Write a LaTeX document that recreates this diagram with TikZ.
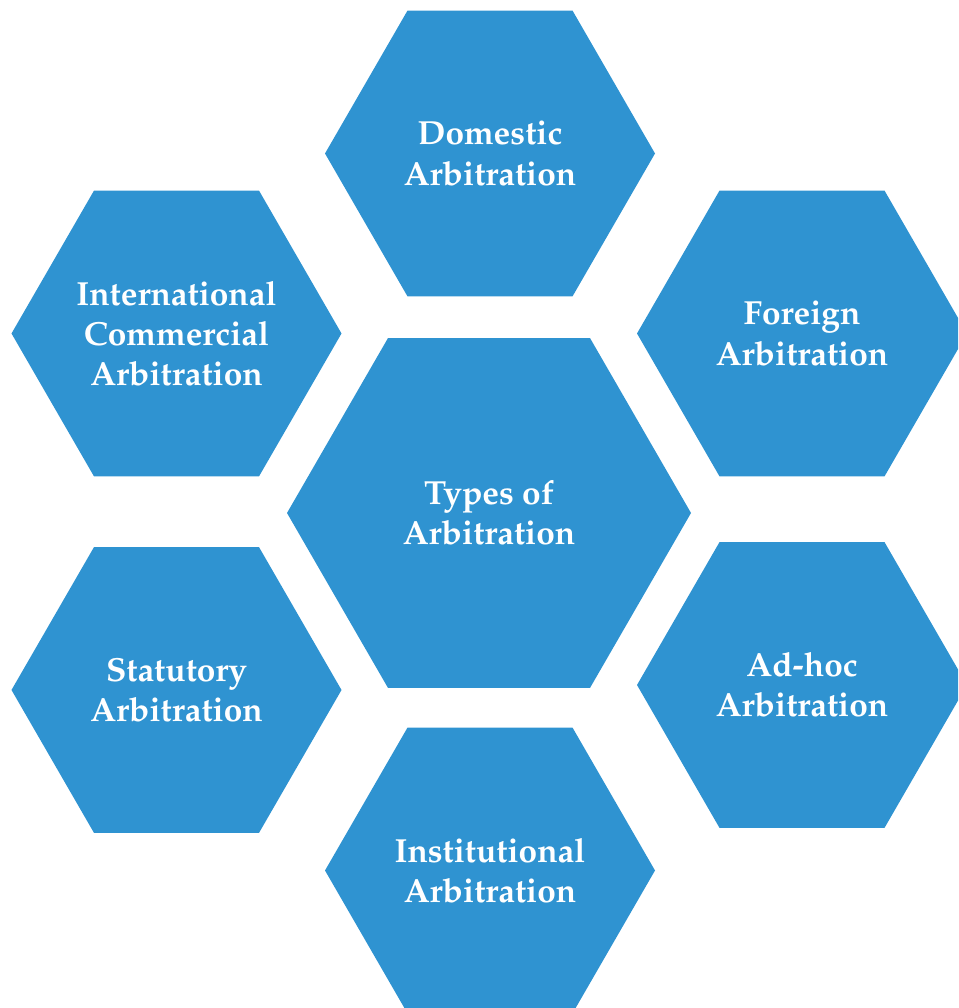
\documentclass[tikz,border=0pt]{standalone}
\usepackage[T1]{fontenc}
\usepackage{mathpazo}
\usetikzlibrary{shapes.geometric}

\definecolor{hexblue}{HTML}{2F93D1}

\begin{document}
\begin{tikzpicture}[
    hexbox/.style={regular polygon, regular polygon sides=6, fill=hexblue,
        draw=none, inner sep=0pt, outer sep=0pt, minimum size=6.6cm,
        align=center, text=white,
        font=\fontsize{19}{22.8}\selectfont\bfseries},
    bighex/.style={hexbox, minimum size=8.08cm}
]

% Frame
\useasboundingbox (0,0) rectangle (19.16,20.16);
\clip (0,0) rectangle (19.16,20.16);

% Centre
\node[bighex] (types) at (9.78,9.90) {Types of\\Arbitration};

% Ring of types
\node[hexbox] (domestic) at (9.80,17.09) {Domestic\\Arbitration};
\node[hexbox] (intl)     at (3.53,13.49) {International\\Commercial\\Arbitration};
\node[hexbox] (foreign)  at (16.04,13.49) {Foreign\\Arbitration};
\node[hexbox] (statute)  at (3.53,6.36)  {Statutory\\Arbitration};
\node[hexbox] (adhoc)    at (16.04,6.46) {Ad-hoc\\Arbitration};
\node[hexbox] (inst)     at (9.80,2.75)  {Institutional\\Arbitration};

\end{tikzpicture}
\end{document}
